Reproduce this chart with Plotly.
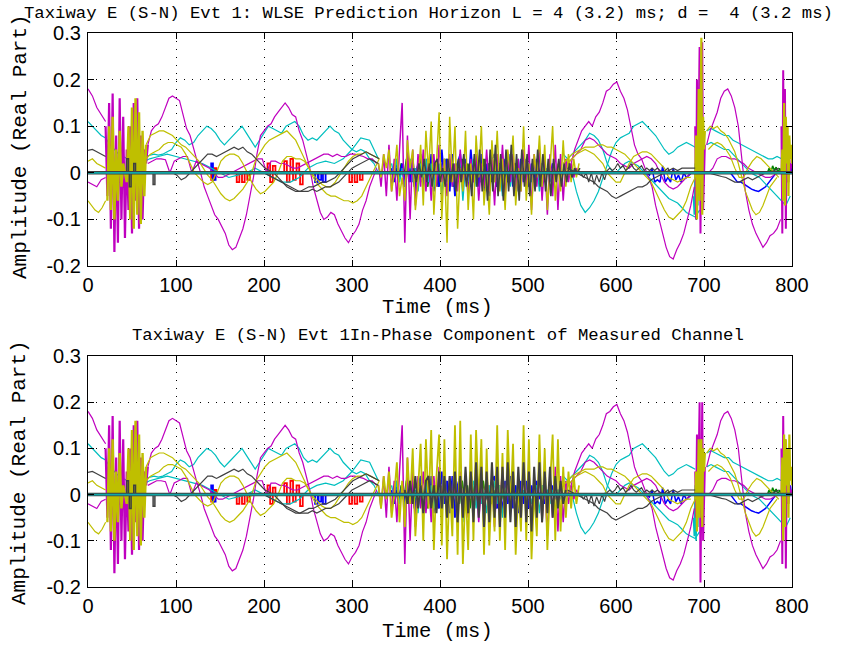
import numpy as np
import plotly.graph_objects as go

# ---------------- data (time in ms, amplitude = real part) ----------------
# smooth magenta A (left part, before and after the early burst)
MAG_A0_T0, MAG_A0_DT = 0, 5
MAG_A0 = [0.18, 0.165, 0.14, 0.125, 0.11]
MAG_A1_T0, MAG_A1_DT = 68, 4
MAG_A1 = [0.06, 0.09, 0.1, 0.105, 0.12, 0.14, 0.16, 0.165, 0.16, 0.155, 0.125, 0.095, 0.08, 0.05,
          0.025, 0.0, -0.03, -0.05, -0.07, -0.09, -0.1, -0.115, -0.13, -0.155, -0.165, -0.16, -0.14,
          -0.12, -0.09, -0.05, -0.01, 0.04, 0.08, 0.09, 0.1, 0.105, 0.12, 0.13, 0.14, 0.15, 0.14,
          0.125, 0.12, 0.09, 0.07, 0.04, 0.01, -0.03, -0.06, -0.085, -0.1, -0.095, -0.085, -0.09,
          -0.11, -0.125, -0.14, -0.15, -0.135, -0.125, -0.11, -0.08, -0.06, -0.03, -0.01, 0.01]
MAG_A2_T0, MAG_A2_DT = 545, 4
MAG_A2 = [0.0, 0.02, 0.05, 0.07, 0.09, 0.1, 0.11, 0.1, 0.12, 0.13, 0.15, 0.175, 0.18, 0.19, 0.195,
          0.175, 0.16, 0.135, 0.1, 0.06, 0.04, 0.03, 0.01, -0.01, -0.03, -0.07, -0.1, -0.13, -0.16,
          -0.18, -0.185, -0.165, -0.15, -0.13, -0.1, -0.07, -0.03]
MAG_A3_T0, MAG_A3_DT = 703, 4
MAG_A3 = [0.06, 0.09, 0.11, 0.13, 0.16, 0.175, 0.18, 0.165, 0.14, 0.1, 0.03, -0.04, -0.08, -0.11,
          -0.13, -0.145, -0.16, -0.15, -0.135, -0.13, -0.12, -0.1]
# smooth magenta B
MAG_B0_T0, MAG_B0_DT = 0, 5
MAG_B0 = [-0.02, -0.025, -0.03, -0.015, -0.01]
MAG_B1_T0, MAG_B1_DT = 68, 5
MAG_B1 = [0.02, 0.025, 0.03, 0.03, 0.028, 0.0, 0.025, 0.03, 0.035, 0.035, 0.0, 0.025, 0.02, 0.015,
          0.01, 0.0, -0.01, -0.01, -0.005, 0.0, 0.005, 0.01, 0.015, 0.02, 0.025, 0.03, 0.03, 0.0,
          0.025, 0.025, 0.02, 0.02, 0.015, 0.01, 0.01, 0.015, 0.02, 0.025, 0.03, 0.035, 0.04, 0.04,
          0.035, 0.04, 0.035, 0.035, 0.04, 0.04, 0.038, 0.035, 0.03, 0.03, 0.02]
MAG_B2_T0, MAG_B2_DT = 545, 5
MAG_B2 = [0.02, 0.03, 0.04, 0.05, 0.07, 0.075, 0.07, 0.06, 0.05, 0.04, 0.035, 0.03, 0.02, 0.015,
          0.01, 0.02, 0.025, 0.03, 0.035, 0.03, 0.02, 0.0, -0.02, -0.03, -0.035, -0.03, -0.02,
          -0.01, 0.0, 0.0]
MAG_B3_T0, MAG_B3_DT = 705, 5
MAG_B3 = [0.0, 0.01, 0.03, 0.035, 0.035, 0.03, 0.03, 0.025, 0.02, 0.01, 0.005, 0.0, -0.005, -0.01,
          -0.01, -0.005, 0.0]
# cyan
CYA_A0_T0, CYA_A0_DT = 0, 5
CYA_A0 = [0.11, 0.1, 0.09, 0.08, 0.075, 0.06, 0.05, 0.04, 0.035, 0.03, 0.025, 0.03, 0.03, 0.035,
          0.038, 0.04, 0.038, 0.04, 0.045, 0.05, 0.065, 0.075, 0.07, 0.06, 0.065, 0.08, 0.09, 0.1,
          0.095, 0.085, 0.07, 0.06, 0.07, 0.08, 0.09, 0.1, 0.085, 0.07, 0.055, 0.07, 0.085, 0.1,
          0.095, 0.09, 0.085, 0.1, 0.105, 0.11, 0.1, 0.08, 0.07, 0.075, 0.07, 0.08, 0.09, 0.1,
          0.09, 0.085, 0.07, 0.06, 0.05, 0.045, 0.05, 0.045, 0.03, 0.02, 0.0]
CYA_B0_T0, CYA_B0_DT = 60, 10
CYA_B0 = [0.02, 0.03, 0.035, 0.04, 0.035, 0.03, 0.025, 0.02, 0.01, 0.0, -0.01, -0.005, 0.0, 0.01,
          0.0, -0.01, -0.02, -0.02, -0.01, 0.01, 0.02, 0.025, 0.02, 0.03, 0.05, 0.075, 0.07, 0.03]
CYA_A1_T0, CYA_A1_DT = 540, 5
CYA_A1 = [0.04, 0.03, 0.0, -0.04, -0.07, -0.085, -0.075, -0.06, -0.04, -0.01, 0.02, 0.045, 0.065,
          0.075, 0.08, 0.085, 0.1, 0.105, 0.11, 0.1, 0.09, 0.08, 0.065, 0.05, 0.04, 0.045, 0.055,
          0.06, 0.065, 0.06, 0.055]
CYA_A2_T0, CYA_A2_DT = 703, 5
CYA_A2 = [0.09, 0.095, 0.09, 0.085, 0.08, 0.08, 0.07, 0.065, 0.06, 0.055, 0.05, 0.045, 0.04,
          0.035, 0.03, 0.03, 0.035, 0.03, 0.02, 0.02]
CYA_B1_T0, CYA_B1_DT = 545, 5
CYA_B1 = [0.03, 0.04, 0.05, 0.06, 0.07, 0.085, 0.08, 0.07, 0.05, 0.02, 0.005, 0.0, 0.01, 0.02,
          0.025, 0.02, 0.015, 0.005, -0.005, -0.015, -0.025, -0.035, -0.045, -0.055, -0.06, -0.065,
          -0.075, -0.085, -0.09, -0.095, -0.08]
CYA_B2_T0, CYA_B2_DT = 703, 5
CYA_B2 = [0.06, 0.065, 0.06, 0.055, 0.05, 0.05, 0.04, 0.03, 0.02, 0.01, 0.0, -0.005, -0.01, -0.02,
          -0.03, -0.04, -0.05, -0.06, -0.07, -0.05]
# yellow
YEL_A0_T0, YEL_A0_DT = 0, 4
YEL_A0 = [-0.06, -0.07, -0.08, -0.085, -0.075, -0.06]
YEL_A1_T0, YEL_A1_DT = 66, 5
YEL_A1 = [0.06, 0.08, 0.085, 0.09, 0.09, 0.085, 0.08, 0.07, 0.06, 0.055, 0.045, 0.035, 0.025,
          0.01, -0.005, -0.015, -0.03, -0.045, -0.055, -0.06, -0.055, -0.045, -0.035, -0.02, 0.0,
          0.03, 0.045, 0.06, 0.07, 0.075, 0.08, 0.085, 0.09, 0.08, 0.07, 0.05, 0.03, 0.01, -0.01,
          -0.025, -0.035, -0.045, -0.05, -0.05, -0.055, -0.06, -0.06, -0.065, -0.06, -0.05, -0.03,
          -0.01, 0.01, 0.03]
YEL_B0_T0, YEL_B0_DT = 0, 5
YEL_B0 = [0.025, 0.03, 0.02, 0.015, 0.01]
YEL_B1_T0, YEL_B1_DT = 66, 5
YEL_B1 = [0.03, 0.04, 0.045, 0.05, 0.06, 0.065, 0.065, 0.06, 0.055, 0.04, 0.02, 0.0, -0.01, -0.02,
          -0.025, -0.02, 0.0, 0.025, 0.035, 0.04, 0.04, 0.035, 0.02, 0.0, -0.02, -0.035, -0.045,
          -0.04, -0.03, -0.02, 0.0, 0.025, 0.035, 0.035, 0.03, 0.03, 0.025, 0.01, -0.005, -0.015,
          -0.025, -0.03, -0.03, -0.02, -0.005, 0.01, 0.025, 0.035, 0.04, 0.04, 0.045, 0.04, 0.035,
          0.03]
YEL_A2_T0, YEL_A2_DT = 540, 5
YEL_A2 = [0.02, 0.03, 0.04, 0.045, 0.05, 0.055, 0.055, 0.055, 0.06, 0.06, 0.055, 0.055, 0.05,
          0.045, 0.04, 0.03, 0.02, 0.01, 0.0, -0.01, -0.02, -0.04, -0.06, -0.08, -0.095, -0.1,
          -0.09, -0.08, -0.06, -0.03, -0.01]
YEL_A3_T0, YEL_A3_DT = 703, 4
YEL_A3 = [0.09, 0.1, 0.095, 0.1, 0.09, 0.085, 0.075, 0.06, 0.045, 0.02, -0.01, -0.04, -0.06,
          -0.08, -0.09, -0.085, -0.07, -0.05, -0.03, -0.02, -0.01]
YEL_B2_T0, YEL_B2_DT = 545, 5
YEL_B2 = [0.02, 0.03, 0.04, 0.045, 0.05, 0.045, 0.04, 0.03, 0.02, 0.0, -0.01, -0.02, -0.02, 0.0,
          0.02, 0.035, 0.04, 0.045, 0.045, 0.04, 0.03, 0.02, 0.01, -0.01, -0.015, -0.02, -0.015,
          -0.01, -0.01]
YEL_B3_T0, YEL_B3_DT = 705, 5
YEL_B3 = [0.05, 0.06, 0.065, 0.06, 0.05, 0.035, 0.01, -0.01, -0.01, 0.01, 0.025, 0.035, 0.03,
          0.02, 0.01, 0.0, -0.01]
# dark grey
GRY_A0_T0, GRY_A0_DT = 0, 5
GRY_A0 = [0.048, 0.05, 0.045, 0.04, 0.035]
GRY_A1_T0, GRY_A1_DT = 66, 5
GRY_A1 = [0.0, 0.0, 0.0, 0.0, 0.0, 0.0, 0.0, -0.005, -0.015, -0.01, 0.0, 0.01, 0.02, 0.03, 0.04,
          0.04, 0.035, 0.04, 0.045, 0.05, 0.055, 0.05, 0.055, 0.045, 0.04, 0.03, 0.02, 0.01, 0.005,
          0.0, -0.01, -0.02, -0.03, -0.035, -0.04, -0.04, -0.035, -0.03, -0.03, -0.025, -0.02,
          -0.02, -0.015, -0.01, 0.0, 0.01, 0.02, 0.03, 0.035, 0.04, 0.045, 0.04, 0.035, 0.03]
GRY_B0_T0, GRY_B0_DT = 195, 5
GRY_B0 = [0.0, 0.0, -0.005, -0.01, -0.015, -0.02, -0.025, -0.03, -0.035, -0.04, -0.04, -0.04,
          -0.035, -0.04, -0.035, -0.03, -0.03, -0.025, -0.02, -0.01, 0.0, 0.01, 0.015, 0.02, 0.025,
          0.03, 0.025, 0.02]
GRY_A2_T0, GRY_A2_DT = 545, 5
GRY_A2 = [0.01, 0.005, 0.0, -0.005, -0.01, -0.015, -0.02, -0.03, -0.035, -0.04, -0.05, -0.055,
          -0.05, -0.045, -0.04, -0.035, -0.03, -0.03, -0.025, -0.015, -0.01, -0.005, 0.0, 0.005,
          0.01, 0.005, 0.01, 0.01, 0.01, 0.01]
GRY_A3_T0, GRY_A3_DT = 705, 5
GRY_A3 = [0.0, -0.003, -0.005, -0.008, -0.01, -0.015, -0.02, -0.02, -0.015, -0.01, -0.015, -0.01,
          -0.005, 0.0, 0.0, 0.005, 0.01]
GRY_B1_T0, GRY_B1_DT = 560, 3
GRY_B1 = [0.0, -0.01, 0.0, -0.02, 0.0, -0.025, -0.005, -0.02, 0.0, -0.015, 0.005, 0.01, 0.005,
          0.01, 0.02, 0.01, 0.015, 0.005, 0.01, 0.02, 0.01, 0.005, 0.01, 0.015, 0.005, 0.01, 0.005,
          0.01, 0.005, 0.01, 0.005, 0.0, 0.005, 0.01, 0.0, 0.005, 0.0, 0.0, 0.0, 0.0, 0.0]
# right-side blue
BLU_R0_T0, BLU_R0_DT = 635, 3
BLU_R0 = [0.0, -0.005, 0.01, -0.02, -0.015, -0.02, 0.015, -0.02, -0.01, -0.02, 0.01, -0.015,
          -0.005, -0.02, 0.0, -0.01, -0.005, 0.0, 0.0, 0.0]
BLU_R1_T0, BLU_R1_DT = 730, 4
BLU_R1 = [0.0, -0.01, -0.02, -0.02, -0.025, -0.03, -0.035, -0.038, -0.04, -0.035, -0.03, -0.02,
          -0.01, 0.0, 0.0]
BLU_END_T0, BLU_END_DT = 789, 1
BLU_END = [0.0, 0.03, -0.02, 0.05, -0.01, 0.04, -0.02, 0.03, 0.01, 0.02, 0.0, 0.01]
GRN_END_T0, GRN_END_DT = 772, 2
GRN_END = [0.0, 0.01, 0.0, 0.015, 0.005, 0.012, 0.0, 0.01, 0.0]

# early burst (20-68 ms), same in both panels
MAG_BURST_T0, MAG_BURST_DT = 20, 2
MAG_BURST = [0.1, -0.05, 0.15, -0.12, 0.17, -0.17, 0.08, -0.15, 0.16, -0.1, 0.12, -0.14, 0.05,
             -0.08, 0.1, -0.13, 0.15, -0.06, 0.16, -0.12, 0.08, -0.1, 0.05, 0.02, 0.06]
YEL_BURST_T0, YEL_BURST_DT = 22, 2
YEL_BURST = [-0.06, 0.1, -0.08, 0.12, -0.1, 0.05, -0.06, 0.09, -0.03, 0.02, 0.0, -0.02, 0.1, -0.1,
             0.14, -0.12, 0.16, -0.09, 0.13, -0.11, 0.09, -0.05, 0.06]

# pulses: start ms, end ms, level
RED_P0 = [140, 144, 169, 175, 181, 204, 207, 210, 223, 226, 230, 233, 237, 241, 297, 303, 309]
RED_P1 = [143, 146, 172, 178, 184, 207, 210, 213, 226, 229, 233, 236, 240, 244, 300, 306, 312]
RED_PV = [-0.015, 0.01, -0.02, -0.02, -0.015, 0.02, -0.02, 0.015, 0.025, -0.02, 0.03, -0.015,
          0.02, -0.025, -0.02, -0.02, -0.015]
BLU_P0 = [35, 38, 41, 44, 140, 142, 258, 262, 267]
BLU_P1 = [38, 41, 44, 47, 142, 145, 261, 265, 270]
BLU_PV = [-0.02, 0.02, -0.03, -0.015, 0.02, -0.015, -0.02, -0.015, -0.02]
GRY_P0 = [44, 47, 52, 74]
GRY_P1 = [46, 49, 54, 76]
GRY_PV = [0.03, -0.03, 0.02, -0.025]

# dense noisy section (shared)
NOISE_T0, NOISE_DT = 330, 3
MAG_NOISE = [0.02, -0.03, 0.04, -0.05, 0.06, -0.04, 0.03, -0.06, 0.05, 0.15, -0.15, 0.08, -0.1,
             0.05, -0.07, 0.04, -0.03, 0.05, -0.04, 0.03, -0.06, 0.04, -0.03, 0.06, -0.02, 0.03,
             -0.05, 0.04, -0.03, 0.02, -0.04, 0.05, -0.03, 0.02, -0.05, 0.03, -0.02, 0.04, -0.06,
             0.02, -0.03, 0.05, -0.04, 0.03, -0.07, 0.04, -0.03, 0.06, -0.05, 0.03, -0.02, 0.04,
             -0.05, 0.03, -0.04, 0.05, -0.03, 0.06, -0.08, 0.04, -0.03, 0.05, -0.06, 0.03, -0.09,
             0.04, -0.05, 0.06, -0.08, 0.04, -0.06, 0.03, -0.02, 0.02, -0.01, 0.01, 0.0]
CYA_NOISE_T0 = 345
CYA_NOISE = [0.02, -0.01, 0.03, -0.02, 0.01, -0.03, 0.02, 0.03, -0.02, 0.01, -0.04, 0.02, -0.01,
             0.03, -0.02, 0.02, -0.03, 0.01, 0.02, -0.05, 0.03, -0.02, 0.01, -0.03, 0.02, -0.01,
             0.03, -0.06, 0.02, -0.02, 0.01, 0.03, -0.03, 0.02, -0.02, 0.01, -0.04, 0.02, -0.01,
             0.03, -0.02, 0.02, -0.05, 0.01, 0.02, -0.03, 0.02, -0.01, 0.03, -0.02, 0.01, -0.03,
             0.02, -0.02, 0.01, 0.02, -0.04, 0.02, -0.01, 0.01, -0.02, 0.01, 0.0, 0.01, -0.01, 0.0]
BLU_NOISE_T0 = 345
BLU_NOISE = [0.01, -0.02, 0.03, -0.01, 0.02, -0.03, 0.04, -0.02, 0.03, -0.04, 0.02, 0.04, -0.03,
             0.03, -0.02, 0.04, -0.04, 0.02, -0.03, 0.05, -0.02, 0.03, -0.04, 0.04, -0.05, 0.02,
             0.04, -0.03, 0.03, -0.04, 0.05, -0.02, 0.03, -0.03, 0.04, -0.04, 0.02, -0.05, 0.03,
             0.04, -0.03, 0.02, -0.04, 0.03, -0.02, 0.04, -0.03, 0.02, -0.04, 0.03, -0.02, 0.03,
             -0.03, 0.02, -0.02, 0.03, -0.01, 0.02, -0.02, 0.01, -0.01, 0.02, -0.01, 0.01, 0.0, 0.0]
GRN_NOISE_T0 = 350
GRN_NOISE = [0.01, -0.02, 0.02, -0.01, 0.03, -0.02, 0.02, -0.03, 0.01, 0.03, -0.02, 0.02, -0.03,
             0.03, -0.01, 0.02, -0.03, 0.02, -0.02, 0.03, -0.02, 0.01, -0.03, 0.02, -0.02, 0.03,
             -0.01, 0.02, -0.03, 0.02, -0.02, 0.01, -0.02, 0.03, -0.01, 0.02, -0.02, 0.01, -0.03,
             0.02, -0.01, 0.02, -0.02, 0.01, -0.01, 0.02, -0.01, 0.01, 0.0, 0.0]

# panel-specific noise: top = WLSE prediction, bottom = measured channel
YEL_NOISE_TOP = [0.02, -0.01, 0.04, 0.01, 0.05, -0.04, 0.0, 0.06, -0.05, -0.01, -0.06, 0.07,
                 0.01, 0.05, -0.08, -0.02, 0.06, -0.07, 0.09, 0.0, 0.11, -0.09, 0.02, 0.13, -0.1,
                 0.03, -0.15, 0.12, -0.02, 0.1, -0.12, 0.01, -0.04, 0.09, -0.08, 0.02, -0.1, 0.08,
                 -0.01, 0.1, -0.07, 0.0, -0.09, 0.07, -0.02, 0.09, -0.04, 0.03, -0.08, 0.05, 0.0,
                 0.08, -0.07, 0.01, -0.04, 0.1, -0.06, 0.02, -0.09, 0.04, -0.01, 0.08, -0.03, 0.06,
                 -0.08, 0.0, 0.1, -0.06, 0.02, -0.04, 0.07, -0.03, 0.04, -0.02, 0.03, -0.01, 0.02]
YEL_NOISE_BOT = [0.02, -0.03, 0.04, -0.01, 0.05, -0.05, 0.0, 0.07, -0.06, 0.03, -0.07, 0.08,
                 -0.02, 0.1, -0.09, 0.02, 0.11, -0.1, 0.12, -0.03, 0.14, -0.12, 0.04, 0.13, -0.11,
                 0.12, -0.14, 0.03, -0.09, 0.15, -0.13, 0.16, -0.15, 0.02, -0.12, 0.13, -0.1, 0.14,
                 -0.02, 0.12, -0.13, 0.1, -0.11, 0.03, -0.08, 0.15, -0.1, 0.09, -0.12, 0.14, -0.03,
                 0.11, -0.13, 0.02, -0.08, 0.15, -0.1, 0.12, -0.14, 0.01, -0.09, 0.13, -0.06, 0.1,
                 -0.12, 0.02, 0.13, -0.1, 0.12, -0.08, 0.06, -0.05, 0.05, -0.03, 0.04, -0.02, 0.02]
GRY_NOISE_TOP_T0 = 370
GRY_NOISE_TOP = [0.01, -0.02, 0.02, -0.01, 0.03, -0.02, 0.02, -0.03, 0.02, 0.03, -0.02, 0.01,
                 -0.03, 0.03, -0.02, 0.02, -0.04, 0.03, -0.02, 0.04, -0.03, 0.02, -0.05, 0.04,
                 -0.03, 0.05, -0.04, 0.03, -0.06, 0.05, -0.04, 0.06, -0.05, 0.04, -0.06, 0.05,
                 -0.04, 0.06, -0.05, 0.04, -0.06, 0.05, -0.03, 0.04, -0.05, 0.03, -0.04, 0.05,
                 -0.03, 0.04, -0.04, 0.03, -0.05, 0.03, -0.02, 0.03, -0.03, 0.02, -0.02, 0.02,
                 -0.01, 0.01, 0.0, 0.01]
GRY_NOISE_BOT_T0 = 360
GRY_NOISE_BOT = [0.01, -0.02, 0.03, -0.02, 0.04, -0.03, 0.02, -0.04, 0.03, 0.04, -0.03, 0.02,
                 -0.04, 0.05, -0.03, 0.04, -0.05, 0.04, -0.03, 0.05, -0.06, 0.04, -0.05, 0.06,
                 -0.04, 0.05, -0.06, 0.07, -0.05, 0.06, -0.07, 0.05, -0.06, 0.07, -0.05, 0.06,
                 -0.07, 0.06, -0.05, 0.07, -0.06, 0.05, -0.07, 0.06, -0.05, 0.07, -0.06, 0.05,
                 -0.08, 0.06, -0.05, 0.07, -0.06, 0.05, -0.04, 0.06, -0.05, 0.04, -0.03, 0.03,
                 -0.02, 0.01]
# spikes near 690-700 ms and at the end
SPK_T0 = 690
MAG_SPK_TOP = [0.1, -0.1, 0.2, -0.05, 0.12, 0.27, -0.13, 0.1, 0.28, -0.08, 0.03, 0.06]
MAG_SPK_BOT = [0.05, -0.05, 0.13, -0.03, 0.08, 0.2, -0.19, 0.05, 0.2, -0.1, 0.03, 0.06]
YEL_SPK_TOP = [-0.01, 0.08, -0.1, 0.05, 0.18, -0.06, 0.12, 0.29, -0.09, 0.12, 0.05, 0.09]
YEL_SPK_BOT = [-0.01, 0.05, -0.08, 0.03, 0.12, -0.05, 0.1, 0.12, -0.07, 0.1, 0.05, 0.09]
CYA_SPK_T0 = 688
CYA_SPK = [-0.05, -0.09, 0.02, -0.1, 0.03, -0.07, 0.05, -0.04, 0.02, 0.0]
END_T0 = 788
MAG_END_TOP = [0.1, -0.13, 0.22, -0.05, 0.18, -0.12, 0.08, 0.05, -0.02, 0.03, 0.0, 0.02, 0.01]
MAG_END_BOT = [0.1, -0.15, 0.17, -0.05, 0.12, -0.16, 0.05, 0.03, -0.02, 0.02, 0.0, 0.01, 0.0]
YEL_END_TOP = [0.0, 0.05, -0.06, 0.15, -0.07, 0.12, 0.02, 0.1, -0.05, 0.08, 0.03, 0.06, 0.02]
YEL_END_BOT = [0.0, 0.08, -0.1, 0.13, -0.07, 0.12, 0.02, 0.1, -0.05, 0.13, 0.03, 0.06, 0.02]

X_TICKS = [0, 100, 200, 300, 400, 500, 600, 700, 800]
Y_TICKS = [-0.2, -0.1, 0, 0.1, 0.2, 0.3]
Y_TICK_TEXT = ["-0.2", "-0.1", "0", "0.1", "0.2", "0.3"]
TITLE_TOP = "Taxiway E (S-N) Evt 1: WLSE Prediction Horizon L = 4 (3.2) ms; d =  4 (3.2 ms)"
TITLE_BOT = "Taxiway E (S-N) Evt 1In-Phase Component of Measured Channel"
XLABEL = "Time (ms)"
YLABEL = "Amplitude (Real Part)"

# ---------------- styling ----------------
M, C, Y, K = "#BF00BF", "#00BFBF", "#BFBF00", "#404040"
B, G, R = "#0000FF", "#008000", "#FF0000"
W, H = 844, 645
MONO = "Liberation Mono, Courier New, monospace"
SANS = "Liberation Sans, Arial, Helvetica, sans-serif"

fig = go.Figure()


def axes(p):
    return ("x", "y") if p == 1 else ("x2", "y2")


def seg(p, t0, dt, vals, color, width=1.2):
    xa, ya = axes(p)
    t = t0 + dt * np.arange(len(vals))
    fig.add_trace(go.Scatter(x=t, y=vals, mode="lines", xaxis=xa, yaxis=ya,
                             line=dict(color=color, width=width),
                             hoverinfo="skip", showlegend=False))


def pulses(p, t0s, t1s, vs, color, width=1.5):
    xa, ya = axes(p)
    xs, ys = [], []
    for a, b, v in zip(t0s, t1s, vs):
        xs += [a, a, b, b, None]
        ys += [0, v, v, 0, None]
    fig.add_trace(go.Scatter(x=xs, y=ys, mode="lines", xaxis=xa, yaxis=ya,
                             line=dict(color=color, width=width),
                             hoverinfo="skip", showlegend=False))


for p in (1, 2):
    top = p == 1
    # green / red / blue (underneath)
    seg(p, GRN_NOISE_T0, NOISE_DT, GRN_NOISE, G, 1.8)
    seg(p, GRN_END_T0, GRN_END_DT, GRN_END, G, 1.5)
    pulses(p, RED_P0, RED_P1, RED_PV, R, 1.8)
    seg(p, BLU_NOISE_T0, NOISE_DT, BLU_NOISE, B, 1.8)
    seg(p, BLU_R0_T0, BLU_R0_DT, BLU_R0, B, 1.5)
    seg(p, BLU_R1_T0, BLU_R1_DT, BLU_R1, B, 1.5)
    seg(p, BLU_END_T0, BLU_END_DT, BLU_END, B, 2)
    pulses(p, BLU_P0, BLU_P1, BLU_PV, B, 1.8)
    # cyan
    seg(p, CYA_A0_T0, CYA_A0_DT, CYA_A0, C)
    seg(p, CYA_B0_T0, CYA_B0_DT, CYA_B0, C)
    seg(p, CYA_A1_T0, CYA_A1_DT, CYA_A1, C)
    seg(p, CYA_A2_T0, CYA_A2_DT, CYA_A2, C)
    seg(p, CYA_B1_T0, CYA_B1_DT, CYA_B1, C)
    seg(p, CYA_B2_T0, CYA_B2_DT, CYA_B2, C)
    seg(p, CYA_NOISE_T0, NOISE_DT, CYA_NOISE, C, 1.4)
    seg(p, CYA_SPK_T0, 1, CYA_SPK, C, 1.6)
    # magenta
    seg(p, MAG_A0_T0, MAG_A0_DT, MAG_A0, M)
    seg(p, MAG_A1_T0, MAG_A1_DT, MAG_A1, M)
    seg(p, MAG_A2_T0, MAG_A2_DT, MAG_A2, M)
    seg(p, MAG_A3_T0, MAG_A3_DT, MAG_A3, M)
    seg(p, MAG_B0_T0, MAG_B0_DT, MAG_B0, M)
    seg(p, MAG_B1_T0, MAG_B1_DT, MAG_B1, M)
    seg(p, MAG_B2_T0, MAG_B2_DT, MAG_B2, M)
    seg(p, MAG_B3_T0, MAG_B3_DT, MAG_B3, M)
    seg(p, MAG_BURST_T0, MAG_BURST_DT, MAG_BURST, M, 2.2)
    seg(p, NOISE_T0, NOISE_DT, MAG_NOISE, M, 1.5)
    seg(p, SPK_T0, 1, MAG_SPK_TOP if top else MAG_SPK_BOT, M, 2)
    seg(p, END_T0, 1, MAG_END_TOP if top else MAG_END_BOT, M, 2)
    # yellow
    seg(p, YEL_A0_T0, YEL_A0_DT, YEL_A0, Y)
    seg(p, YEL_A1_T0, YEL_A1_DT, YEL_A1, Y)
    seg(p, YEL_B0_T0, YEL_B0_DT, YEL_B0, Y)
    seg(p, YEL_B1_T0, YEL_B1_DT, YEL_B1, Y)
    seg(p, YEL_A2_T0, YEL_A2_DT, YEL_A2, Y)
    seg(p, YEL_A3_T0, YEL_A3_DT, YEL_A3, Y)
    seg(p, YEL_B2_T0, YEL_B2_DT, YEL_B2, Y)
    seg(p, YEL_B3_T0, YEL_B3_DT, YEL_B3, Y)
    seg(p, YEL_BURST_T0, YEL_BURST_DT, YEL_BURST, Y, 2.4)
    seg(p, NOISE_T0, NOISE_DT, YEL_NOISE_TOP if top else YEL_NOISE_BOT, Y, 1.5 if top else 1.8)
    seg(p, SPK_T0, 1, YEL_SPK_TOP if top else YEL_SPK_BOT, Y, 2.2)
    seg(p, END_T0, 1, YEL_END_TOP if top else YEL_END_BOT, Y, 2.2)
    # grey
    seg(p, GRY_A0_T0, GRY_A0_DT, GRY_A0, K)
    seg(p, GRY_A1_T0, GRY_A1_DT, GRY_A1, K)
    seg(p, GRY_B0_T0, GRY_B0_DT, GRY_B0, K)
    seg(p, GRY_A2_T0, GRY_A2_DT, GRY_A2, K)
    seg(p, GRY_A3_T0, GRY_A3_DT, GRY_A3, K)
    seg(p, GRY_B1_T0, GRY_B1_DT, GRY_B1, K)
    pulses(p, GRY_P0, GRY_P1, GRY_PV, K, 1.5)
    if top:
        seg(p, GRY_NOISE_TOP_T0, NOISE_DT, GRY_NOISE_TOP, K, 1.6)
    else:
        seg(p, GRY_NOISE_BOT_T0, NOISE_DT, GRY_NOISE_BOT, K, 2.0)
    # zero reference
    xa, ya = axes(p)
    fig.add_trace(go.Scatter(x=[X_TICKS[0], X_TICKS[-1]], y=[0, 0], mode="lines", xaxis=xa,
                             yaxis=ya, line=dict(color=K, width=3.5), hoverinfo="skip",
                             showlegend=False))
    fig.add_trace(go.Scatter(x=[X_TICKS[0], X_TICKS[-1]], y=[0, 0], mode="lines", xaxis=xa,
                             yaxis=ya, line=dict(color="#10A8A8", width=1.8), hoverinfo="skip",
                             showlegend=False))

XD = [88 / W, 792 / W]
axis_common = dict(showline=True, linecolor="black", linewidth=1.2, mirror="ticks",
                   ticks="inside", ticklen=6, tickcolor="black", showgrid=True,
                   gridcolor="black", gridwidth=1, griddash="1px,7px", zeroline=False,
                   automargin=False,
                   tickfont=dict(family=SANS, size=20, color="black"))
xax = dict(axis_common, range=[0, 800], tickvals=X_TICKS, ticklabelstandoff=1)
yax = dict(axis_common, range=[-0.2, 0.3], tickvals=Y_TICKS, ticktext=Y_TICK_TEXT,
           ticklabelstandoff=2)

fig.update_layout(
    width=W, height=H, margin=dict(l=0, r=0, t=0, b=0, autoexpand=False),
    paper_bgcolor="white", plot_bgcolor="white", showlegend=False,
    xaxis=dict(xax, domain=XD, anchor="y"),
    yaxis=dict(yax, domain=[1 - 266 / H, 1 - 33 / H], anchor="x"),
    xaxis2=dict(xax, domain=XD, anchor="y2"),
    yaxis2=dict(yax, domain=[1 - 587 / H, 1 - 356 / H], anchor="x2"),
    annotations=[
        dict(text=TITLE_TOP, x=429 / W, y=1 - 13 / H, xref="paper", yref="paper",
             showarrow=False, xanchor="center", yanchor="middle",
             font=dict(family=MONO, size=17.3, color="black")),
        dict(text=TITLE_BOT, x=438 / W, y=1 - 335 / H, xref="paper", yref="paper",
             showarrow=False, xanchor="center", yanchor="middle",
             font=dict(family=MONO, size=17.3, color="black")),
        dict(text=XLABEL, x=437 / W, y=1 - 307 / H, xref="paper", yref="paper",
             showarrow=False, xanchor="center", yanchor="middle",
             font=dict(family=MONO, size=20.5, color="black")),
        dict(text=XLABEL, x=437 / W, y=1 - 631 / H, xref="paper", yref="paper",
             showarrow=False, xanchor="center", yanchor="middle",
             font=dict(family=MONO, size=20.5, color="black")),
        dict(text=YLABEL, x=20 / W, y=1 - 147 / H, xref="paper", yref="paper",
             showarrow=False, xanchor="center", yanchor="middle", textangle=-90,
             font=dict(family=MONO, size=21, color="black")),
        dict(text=YLABEL, x=20 / W, y=1 - 473 / H, xref="paper", yref="paper",
             showarrow=False, xanchor="center", yanchor="middle", textangle=-90,
             font=dict(family=MONO, size=21, color="black")),
    ],
)

fig.write_html("out.html", config={"displayModeBar": False},
               post_script="document.body.style.margin='0';"
                           "document.body.style.overflow='hidden';")
